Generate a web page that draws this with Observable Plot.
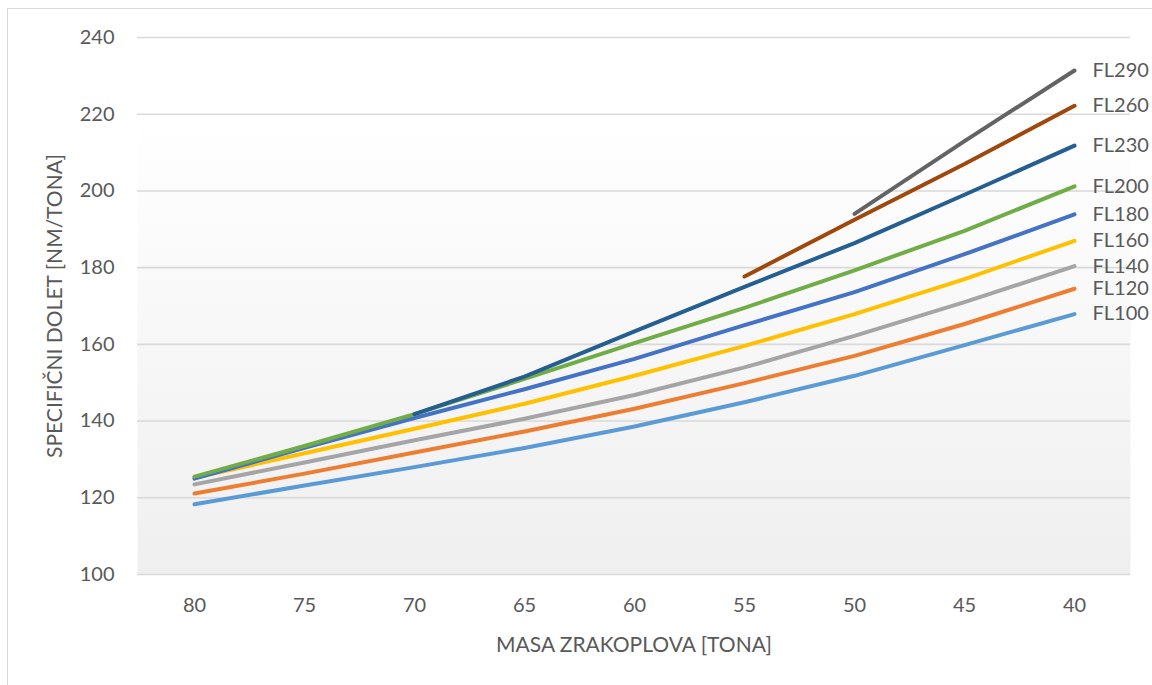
<!DOCTYPE html>
<html><head><meta charset="utf-8">
<script src="https://cdn.jsdelivr.net/npm/d3@7"></script>
<script src="https://cdn.jsdelivr.net/npm/@observablehq/plot@0.6"></script>
<style>
body{margin:0;background:#fff;overflow:hidden;}
#frame{position:absolute;left:7px;top:8px;width:1170px;height:700px;border:1.5px solid #d9d9d9;}
#chart{position:absolute;left:0;top:0;width:1152px;height:685px;}
</style></head><body>
<div id="frame"></div>
<div id="chart"></div>
<script>
const masses = ["80","75","70","65","60","55","50","45","40"];
const seriesNames = ["FL100","FL120","FL140","FL160","FL180","FL200","FL230","FL260","FL290"];
const seriesColors = ["#5B9BD5","#ED7D31","#A5A5A5","#FFC000","#4472C4","#70AD47","#255E91","#9E480E","#636363"];
const yTicks = [100,120,140,160,180,200,220,240];

const fl100 = [118.3,123.2,128.0,133.0,138.6,144.9,151.8,159.8,167.9];
const fl120 = [121.1,126.3,131.8,137.3,143.2,149.9,157.0,165.3,174.5];
const fl140 = [123.5,129.2,135.0,140.6,146.8,154.0,162.2,171.0,180.4];
const fl160 = [125.2,131.6,138.0,144.5,151.8,159.6,167.9,177.0,187.0];
const fl180 = [125.0,133.0,140.8,148.3,156.2,165.0,173.6,183.5,193.9];
const fl200 = [125.5,133.5,141.8,151.0,160.3,169.5,179.3,189.6,201.2];
const fl230 = [null,null,141.8,151.6,163.4,175.0,186.4,199.0,211.8];
const fl260 = [null,null,null,null,null,177.7,192.5,207.0,222.2];
const fl290 = [null,null,null,null,null,null,194.0,213.0,231.4];

const seriesValues = [fl100,fl120,fl140,fl160,fl180,fl200,fl230,fl260,fl290];

const rows = [];
seriesNames.forEach((s,i)=>seriesValues[i].forEach((v,j)=>{
  if (v != null) rows.push({series:s, mass:masses[j], value:v});
}));
const lastPoints = seriesNames.map((s,i)=>{
  const vals = seriesValues[i];
  return {series:s, mass:masses[masses.length-1], value:vals[vals.length-1]};
});

const chart = Plot.plot({
  width:1152, height:685,
  marginLeft:137, marginRight:22, marginTop:37, marginBottom:111,
  style:{fontFamily:"Lato, 'Open Sans', sans-serif", fontSize:"20px", color:"#595959", background:"transparent", overflow:"visible"},
  x:{type:"point", domain:masses, padding:0.5},
  y:{domain:[100,240]},
  color:{domain:seriesNames, range:seriesColors},
  marks:[
    Plot.frame({fill:"url(#bgGrad)", stroke:null}),
    Plot.ruleY(yTicks, {stroke:"#d9d9d9", strokeWidth:1.6}),
    Plot.axisY({ticks:yTicks, tickSize:0, tickPadding:23, fontSize:20, label:"SPECIFIČNI DOLET [NM/TONA]", labelAnchor:"center", labelOffset:90, labelArrow:false}),
    Plot.axisX({tickSize:0, tickPadding:23, fontSize:20, label:"MASA ZRAKOPLOVA [TONA]", labelAnchor:"center", labelOffset:77, labelArrow:false}),
    Plot.line(rows, {x:"mass", y:"value", z:"series", stroke:"series", strokeWidth:4, strokeLinecap:"round", strokeLinejoin:"round"}),
    Plot.text(lastPoints, {x:"mass", y:"value", text:"series", dx:18, textAnchor:"start", fill:"#595959", fontSize:20})
  ]
});

chart.querySelectorAll("[aria-label='y-axis label'] text, [aria-label='x-axis label'] text").forEach(t => t.setAttribute("font-size", "21"));

const defs = d3.select(chart).insert("defs", ":first-child");
const grad = defs.append("linearGradient").attr("id","bgGrad").attr("x1",0).attr("y1",0).attr("x2",0).attr("y2",1);
grad.append("stop").attr("offset","0").attr("stop-color","#ffffff");
grad.append("stop").attr("offset","0.14").attr("stop-color","#ffffff");
grad.append("stop").attr("offset","1").attr("stop-color","#efefef");

document.getElementById("chart").appendChild(chart);
</script>
</body></html>
